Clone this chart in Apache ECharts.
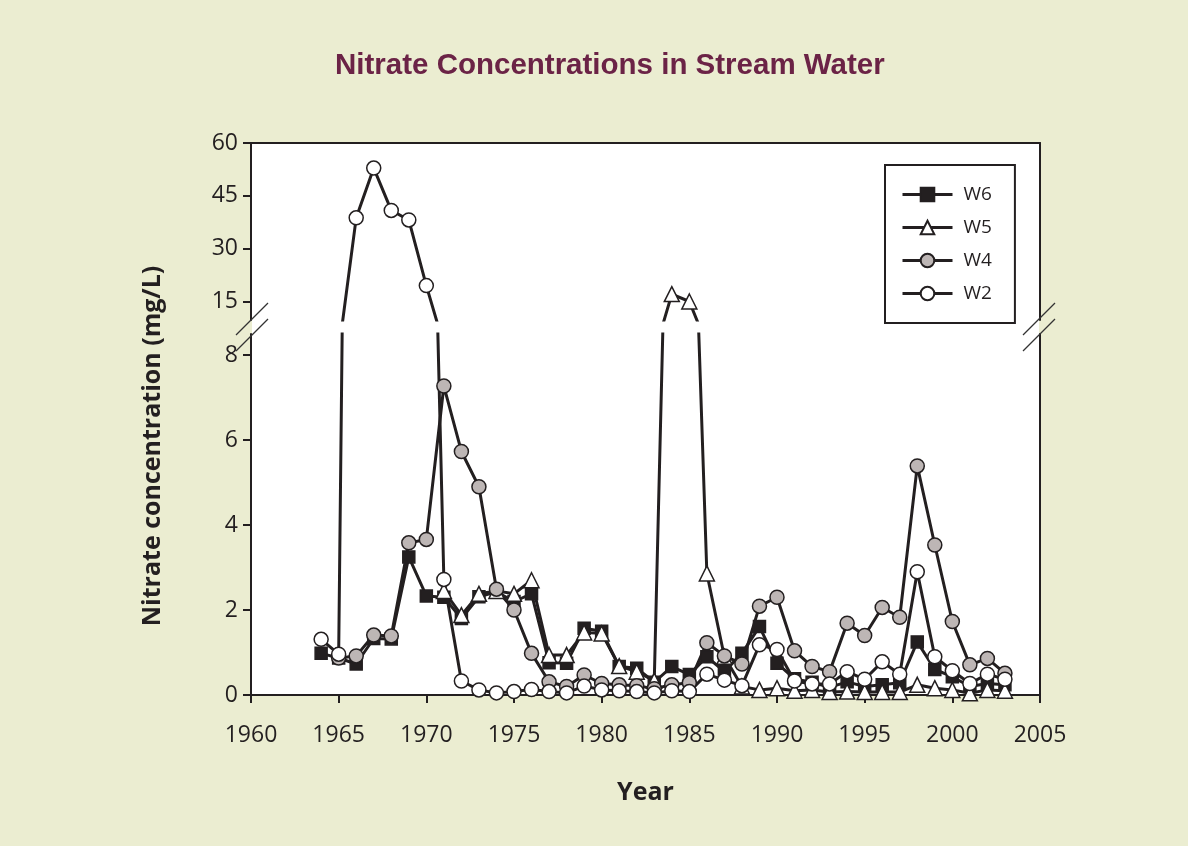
<!DOCTYPE html>
<html>
<head>
<meta charset="utf-8">
<title>Nitrate Concentrations in Stream Water</title>
<script src="https://cdn.jsdelivr.net/npm/echarts@6.0.0/dist/echarts.min.js"></script>
<style>
  html, body { margin: 0; padding: 0; background: #ebedd1; }
  #chart { width: 1188px; height: 846px; }
</style>
</head>
<body>
<div id="chart"></div>
<script>
// sampling years, one value per year (null = no data that year)
const years = [1964, 1965, 1966, 1967, 1968, 1969, 1970, 1971, 1972, 1973,
  1974, 1975, 1976, 1977, 1978, 1979, 1980, 1981, 1982, 1983,
  1984, 1985, 1986, 1987, 1988, 1989, 1990, 1991, 1992, 1993,
  1994, 1995, 1996, 1997, 1998, 1999, 2000, 2001, 2002, 2003];

const w6 = [0.98, 0.87, 0.73, 1.33, 1.32, 3.25, 2.33, 2.30, 1.80, 2.31,
  2.43, 2.20, 2.38, 0.76, 0.75, 1.57, 1.50, 0.67, 0.63, 0.30,
  0.67, 0.48, 0.90, 0.55, 0.98, 1.61, 0.75, 0.38, 0.30, 0.18,
  0.31, 0.20, 0.24, 0.29, 1.25, 0.60, 0.43, 0.20, 0.27, 0.24];

const w5 = [null, null, null, null, null, null, null, 2.45, 1.88, 2.38,
  2.45, 2.38, 2.70, 0.94, 0.94, 1.47, 1.45, 0.68, 0.55, 0.34,
  17.2, 15.1, 2.86, 0.90, 0.20, 0.12, 0.16, 0.10, 0.12, 0.07,
  0.08, 0.07, 0.07, 0.07, 0.24, 0.16, 0.12, 0.04, 0.12, 0.10];

const w4 = [null, 0.87, 0.92, 1.41, 1.39, 3.58, 3.66, 7.27, 5.73, 4.90,
  2.49, 2.00, 0.98, 0.31, 0.20, 0.47, 0.27, 0.24, 0.22, 0.15,
  0.24, 0.29, 1.23, 0.92, 0.73, 2.09, 2.30, 1.04, 0.67, 0.55,
  1.69, 1.40, 2.06, 1.83, 5.39, 3.53, 1.73, 0.71, 0.86, 0.51];

const w2 = [1.31, 0.96, 38.8, 52.9, 40.9, 38.2, 19.6, 2.72, 0.33, 0.12,
  0.05, 0.08, 0.13, 0.08, 0.05, 0.21, 0.12, 0.10, 0.08, 0.05,
  0.10, 0.08, 0.49, 0.35, 0.22, 1.18, 1.07, 0.33, 0.26, 0.26,
  0.55, 0.37, 0.78, 0.49, 2.90, 0.90, 0.57, 0.27, 0.49, 0.37];

const lowerTicks = [0, 2, 4, 6, 8];
const upperTicks = [15, 30, 45, 60];

const INK = '#231f20';
const FONT = '"Open Sans", "Noto Sans", sans-serif';

// plot frame in px; the y axis is broken between breakTop and breakBottom
const plot = { left: 251, right: 1040, top: 143, breakTop: 320, breakBottom: 334, bottom: 695 };
const lowerMax = (plot.bottom - plot.breakBottom) / 42.5;   // 42.5 px per mg/L below the break
const upperMin = 60 - (plot.breakTop - plot.top) / 3.53;    // 3.53 px per mg/L above it

const seriesValues = { W6: w6, W5: w5, W4: w4, W2: w2 };
const looks = {
  W6: { symbol: 'rect', size: 12, fill: INK },
  W5: { symbol: 'triangle', size: 15, fill: '#ffffff' },
  W4: { symbol: 'circle', size: 14, fill: '#bdb6b5' },
  W2: { symbol: 'circle', size: 14, fill: '#ffffff' }
};

// every series is drawn in both panels, each panel clips what falls outside it
const makeSeries = (name, panel) => ({
  name: name,
  type: 'line',
  xAxisIndex: panel,
  yAxisIndex: panel * 2,
  data: years.map((y, i) => [y, seriesValues[name][i]]),
  symbol: looks[name].symbol,
  symbolSize: looks[name].size,
  showAllSymbol: true,
  clip: true,
  lineStyle: { color: INK, width: 3 },
  itemStyle: { color: looks[name].fill, borderColor: INK, borderWidth: 1.5 },
  emphasis: { disabled: true }
});

const names = ['W6', 'W5', 'W4', 'W2'];
const series = [];
[0, 1].forEach(panel => names.forEach(n => series.push(makeSeries(n, panel))));

const axisLine = { show: true, onZero: false, lineStyle: { color: INK, width: 2 } };
const tickLabel = { color: INK, fontSize: 23, fontFamily: FONT };

const chart = echarts.init(document.getElementById('chart'));
chart.setOption({
  backgroundColor: '#ebedd1',
  animation: false,
  title: {
    text: 'Nitrate Concentrations in Stream Water',
    left: 330,
    top: 46,
    textStyle: { color: '#6b2346', fontSize: 29.5, fontWeight: 'bold', fontFamily: '"Liberation Sans", Arial, sans-serif' }
  },
  legend: {
    data: names,
    orient: 'vertical',
    left: 885,
    top: 165,
    padding: [20, 23, 20, 16],
    itemWidth: 50,
    itemHeight: 17,
    itemGap: 14,
    backgroundColor: '#ffffff',
    borderColor: INK,
    borderWidth: 2,
    borderRadius: 0,
    selectedMode: false,
    lineStyle: { color: INK, width: 3 },
    textStyle: { color: INK, fontSize: 19, fontFamily: FONT, padding: [0, 0, 0, 6] }
  },
  grid: [
    { left: plot.left, width: plot.right - plot.left, top: plot.breakBottom, height: plot.bottom - plot.breakBottom,
      show: true, backgroundColor: '#ffffff', borderWidth: 0 },
    { left: plot.left, width: plot.right - plot.left, top: plot.top, height: plot.breakTop - plot.top,
      show: true, backgroundColor: '#ffffff', borderWidth: 0 }
  ],
  xAxis: [
    {
      gridIndex: 0, type: 'value', min: 1960, max: 2005, interval: 5,
      axisLine: axisLine,
      axisTick: { length: 8, lineStyle: { color: INK, width: 2 } },
      axisLabel: Object.assign({ margin: 29, formatter: v => String(v) }, tickLabel),
      splitLine: { show: false },
      name: 'Year', nameLocation: 'middle', nameGap: 85,
      nameTextStyle: { color: INK, fontSize: 25, fontWeight: 'bold', fontFamily: FONT }
    },
    {
      gridIndex: 1, type: 'value', position: 'top', min: 1960, max: 2005, interval: 5,
      axisLine: axisLine, axisTick: { show: false }, axisLabel: { show: false }, splitLine: { show: false }
    }
  ],
  yAxis: [
    {
      gridIndex: 0, type: 'value', min: 0, max: lowerMax,
      axisLine: axisLine,
      axisTick: { length: 8, customValues: lowerTicks, lineStyle: { color: INK, width: 2 } },
      axisLabel: Object.assign({ margin: 13, customValues: lowerTicks }, tickLabel),
      splitLine: { show: false }
    },
    {
      gridIndex: 0, type: 'value', position: 'right', min: 0, max: lowerMax,
      axisLine: axisLine, axisTick: { show: false }, axisLabel: { show: false }, splitLine: { show: false }
    },
    {
      gridIndex: 1, type: 'value', min: upperMin, max: 60,
      axisLine: axisLine,
      axisTick: { length: 8, customValues: upperTicks, lineStyle: { color: INK, width: 2 } },
      axisLabel: Object.assign({ margin: 13, customValues: upperTicks }, tickLabel),
      splitLine: { show: false }
    },
    {
      gridIndex: 1, type: 'value', position: 'right', min: upperMin, max: 60,
      axisLine: axisLine, axisTick: { show: false }, axisLabel: { show: false }, splitLine: { show: false }
    }
  ],
  graphic: [
    // white strip inside the plot where the axis is broken
    { type: 'rect', z: 1, shape: { x: plot.left + 1, y: plot.breakTop, width: plot.right - plot.left - 2, height: plot.breakBottom - plot.breakTop },
      style: { fill: '#ffffff' } },
    // break marks on both sides
    { type: 'line', z: 10, shape: { x1: plot.left - 15, y1: 335, x2: plot.left + 17, y2: 303 }, style: { stroke: '#333', lineWidth: 1.3 } },
    { type: 'line', z: 10, shape: { x1: plot.left - 15, y1: 351, x2: plot.left + 17, y2: 319 }, style: { stroke: '#333', lineWidth: 1.3 } },
    { type: 'line', z: 10, shape: { x1: plot.right - 17, y1: 335, x2: plot.right + 15, y2: 303 }, style: { stroke: '#333', lineWidth: 1.3 } },
    { type: 'line', z: 10, shape: { x1: plot.right - 17, y1: 351, x2: plot.right + 15, y2: 319 }, style: { stroke: '#333', lineWidth: 1.3 } },
    {
      type: 'text', x: 153, y: 446, rotation: Math.PI / 2,
      style: { text: 'Nitrate concentration (mg/L)', fill: INK, font: 'bold 25px ' + FONT, align: 'center', verticalAlign: 'middle' }
    }
  ],
  series: series
});
</script>
</body>
</html>
